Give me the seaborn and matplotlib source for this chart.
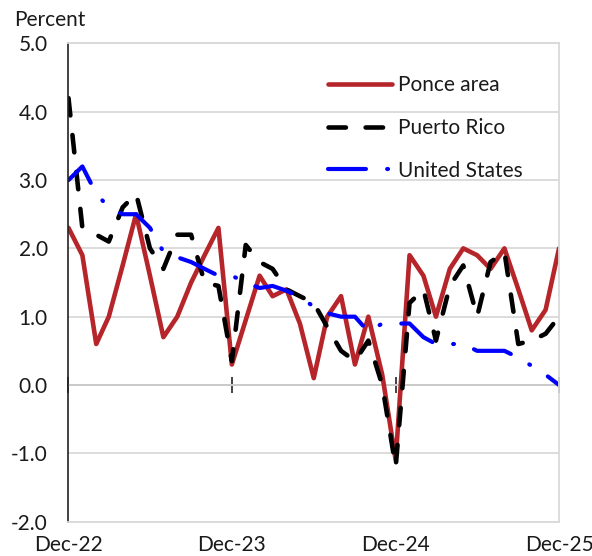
import matplotlib
matplotlib.use("Agg")
import matplotlib.pyplot as plt
import seaborn as sns
import pandas as pd

# Monthly series, Dec-22 through Dec-25 (percent)
months = pd.date_range("2022-12-01", periods=37, freq="MS")
ponce_area = [2.3, 1.9, 0.6, 1.0, 1.75, 2.5, 1.6, 0.7, 1.0, 1.5, 1.9, 2.3,
              0.3, 0.95, 1.6, 1.3, 1.4, 0.9, 0.1, 1.0, 1.3, 0.3, 1.0, 0.15,
              -1.1, 1.9, 1.6, 1.0, 1.7, 2.0, 1.9, 1.7, 2.0, 1.4, 0.8, 1.1, 2.0]
puerto_rico = [4.2, 2.3, 2.2, 2.1, 2.6, 2.8, 2.0, 1.7, 2.2, 2.2, 1.5, 1.45,
               0.35, 2.05, 1.8, 1.7, 1.4, 1.3, 1.2, 0.85, 0.5, 0.35, 0.65, 0.0,
               -1.2, 1.2, 1.4, 0.65, 1.45, 1.75, 1.0, 1.8, 1.95, 0.6, 0.65, 0.75, 1.0]
united_states = [3.0, 3.2, 2.8, 2.6, 2.5, 2.5, 2.3, 1.95, 1.87, 1.8, 1.7, 1.6,
                 1.6, 1.5, 1.42, 1.45, 1.38, 1.28, 1.15, 1.05, 1.0, 1.0, 0.78, 0.9,
                 0.9, 0.9, 0.7, 0.6, 0.6, 0.6, 0.5, 0.5, 0.5, 0.4, 0.28, 0.15, 0.0]

tick_dates = pd.to_datetime(["2022-12-01", "2023-12-01", "2024-12-01", "2025-12-01"])
tick_labels = ["Dec-22", "Dec-23", "Dec-24", "Dec-25"]
y_ticks = [-2.0, -1.0, 0.0, 1.0, 2.0, 3.0, 4.0, 5.0]

df = pd.DataFrame({
    "month": months,
    "Ponce area": ponce_area,
    "Puerto Rico": puerto_rico,
    "United States": united_states,
})

sns.set_theme(style="white")
plt.rcParams["font.family"] = ["Lato", "DejaVu Sans"]

text_color = "#1a1a1a"
grid_color = "#d9d9d9"
font_size = 15

fig = plt.figure(figsize=(5.92, 5.56), dpi=100)
ax = fig.add_axes([0.1157, 0.0619, 0.8286, 0.8599])

sns.lineplot(data=df, x="month", y="Ponce area", ax=ax, color="#b5252a",
             linewidth=3.3, label="Ponce area", solid_capstyle="round")
sns.lineplot(data=df, x="month", y="Puerto Rico", ax=ax, color="black",
             linewidth=3.3, linestyle=(0, (3.8, 4.3)), dash_capstyle="round",
             label="Puerto Rico")
sns.lineplot(data=df, x="month", y="United States", ax=ax, color="#0000ff",
             linewidth=3.0, linestyle=(0, (9.1, 5.1, 0.2, 5.1)),
             dash_capstyle="round", label="United States")

ax.set_xlim(months[0], months[-1])
ax.set_ylim(-2.0, 5.0)
ax.set_yticks(y_ticks)
ax.set_yticklabels([f"{v:.1f}" for v in y_ticks])
ax.set_xticks(tick_dates)
ax.set_xticklabels(tick_labels)
ax.set_xlabel("")
ax.set_ylabel("")

ax.tick_params(axis="both", length=0, labelsize=font_size, colors=text_color)
ax.tick_params(axis="y", pad=15)
ax.tick_params(axis="x", pad=10)

ax.yaxis.grid(True, color=grid_color, linewidth=1.3)
ax.xaxis.grid(False)
ax.set_axisbelow(True)

for side in ["top", "right", "bottom"]:
    ax.spines[side].set_color(grid_color)
    ax.spines[side].set_linewidth(1.3)
ax.spines["left"].set_color("#222222")
ax.spines["left"].set_linewidth(1.2)

# horizontal axis line at zero with yearly tick marks
zero_axis = ax.secondary_xaxis(2.0 / 7.0)
zero_axis.set_xticks(tick_dates)
zero_axis.set_xticklabels([])
zero_axis.tick_params(axis="x", direction="inout", length=11, width=1.2,
                      color="#222222")
zero_axis.spines["bottom"].set_color("#222222")
zero_axis.spines["bottom"].set_linewidth(1.2)
zero_axis.spines["top"].set_visible(False)

leg = ax.legend(loc="upper left", bbox_to_anchor=(0.529, 0.9335), frameon=False,
                fontsize=font_size, handlelength=3.07, handletextpad=0.3,
                labelspacing=1.09, borderaxespad=0, borderpad=0)
for t in leg.get_texts():
    t.set_color(text_color)

fig.text(14 / 592, 1 - 20 / 556, "Percent", fontsize=font_size, color=text_color,
         ha="left", va="center")

fig.savefig("out.png", dpi=100)
